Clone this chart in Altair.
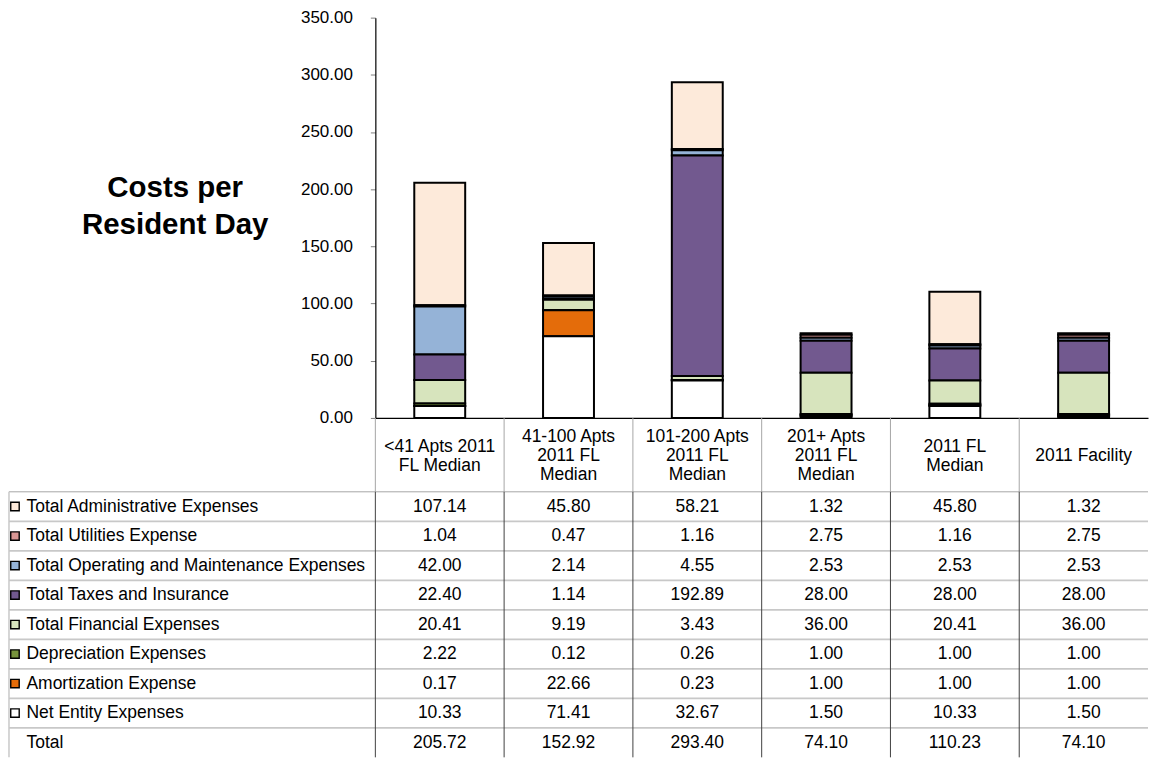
import altair as alt
import pandas as pd

FONT = "Liberation Sans"

# Column categories and their multi-line table headers
categories = [
    "<41 Apts 2011 FL Median",
    "41-100 Apts 2011 FL Median",
    "101-200 Apts 2011 FL Median",
    "201+ Apts 2011 FL Median",
    "2011 FL Median",
    "2011 Facility",
]
header_lines = [
    ["<41 Apts 2011", "FL Median"],
    ["41-100 Apts", "2011 FL", "Median"],
    ["101-200 Apts", "2011 FL", "Median"],
    ["201+ Apts", "2011 FL", "Median"],
    ["2011 FL", "Median"],
    ["2011 Facility"],
]

# Expense series, in table order (top row first)
series = [
    "Total Administrative Expenses",
    "Total Utilities Expense",
    "Total Operating and Maintenance Expenses",
    "Total Taxes and Insurance",
    "Total Financial Expenses",
    "Depreciation Expenses",
    "Amortization Expense",
    "Net Entity Expenses",
]
series_colors = [
    "#FDEADA",
    "#D99694",
    "#95B3D7",
    "#72598F",
    "#D7E4BD",
    "#77933C",
    "#E46C0A",
    "#FFFFFF",
]

administrative = [107.14, 45.80, 58.21, 1.32, 45.80, 1.32]
utilities = [1.04, 0.47, 1.16, 2.75, 1.16, 2.75]
operating = [42.00, 2.14, 4.55, 2.53, 2.53, 2.53]
taxes = [22.40, 1.14, 192.89, 28.00, 28.00, 28.00]
financial = [20.41, 9.19, 3.43, 36.00, 20.41, 36.00]
depreciation = [2.22, 0.12, 0.26, 1.00, 1.00, 1.00]
amortization = [0.17, 22.66, 0.23, 1.00, 1.00, 1.00]
net_entity = [10.33, 71.41, 32.67, 1.50, 10.33, 1.50]
totals = [205.72, 152.92, 293.40, 74.10, 110.23, 74.10]

y_ticks = [0, 50, 100, 150, 200, 250, 300, 350]

series_values = [administrative, utilities, operating, taxes,
                 financial, depreciation, amortization, net_entity]

# Long table for the stacked bars and the data table
records = []
for s_idx, (name, vals) in enumerate(zip(series, series_values)):
    for cat, v in zip(categories, vals):
        records.append({
            "category": cat,
            "row": name,
            "series": name,
            "value": v,
            "stack": len(series) - 1 - s_idx,
        })
bars_df = pd.DataFrame(records)

total_df = pd.DataFrame({"category": categories, "row": "Total",
                         "series": None, "value": totals})
table_df = pd.concat([bars_df, total_df], ignore_index=True)
table_df["label"] = table_df["value"].map(lambda v: f"{v:.2f}")

rows = series + ["Total"]
rows_df = pd.DataFrame({"row": rows})
cats_df = pd.DataFrame({"category": categories})
swatch_df = pd.DataFrame({"row": series, "series": series})

# One record per header text line; "pos" centres each block vertically
head_records = []
for cat, lines in zip(categories, header_lines):
    n = len(lines)
    for i, line in enumerate(lines):
        head_records.append({"category": cat, "text": line,
                             "pos": (n - 1) / 2 - i})
head_df = pd.DataFrame(head_records)

W = 774
H_PLOT = 401
H_HEAD = 74
H_BODY = 266
LEFT = 367  # width of the row-label column left of the plot
HEAD_LINE = 19  # header line spacing in pixels

x_scale = alt.Scale(domain=categories, paddingInner=0, paddingOuter=0)
color_scale = alt.Scale(domain=series, range=series_colors)
row_scale = alt.Scale(domain=rows, paddingInner=0, paddingOuter=0)

GRID_V_BODY = "#404040"
GRID_V_HEAD = "#A6A6A6"
GRID_H = "#C8C8C8"
GRID_H_TOP = "#A6A6A6"
TABLE_FONT = 17.5

# ---- stacked bars -------------------------------------------------------
bars = alt.Chart(bars_df).mark_bar(
    size=51, stroke="#000000", strokeWidth=2
).encode(
    x=alt.X("category:N", scale=x_scale, sort=categories,
            axis=alt.Axis(labels=False, ticks=False, title=None,
                          domainColor="#000000", domainWidth=1.2)),
    y=alt.Y("value:Q", stack="zero",
            scale=alt.Scale(domain=[0, 350], nice=False),
            axis=alt.Axis(
                values=y_ticks, format=".2f", grid=False,
                labelFontSize=17, labelColor="#000000", labelPadding=18,
                tickSize=5, tickColor="#808080",
                domainColor="#000000", domainWidth=1.2,
                title=["Costs per", "Resident Day"],
                titleAngle=0, titleFontSize=29.5, titleFontWeight="bold",
                titleColor="#000000", titleAlign="center",
                titleBaseline="alphabetic", titleLineHeight=37,
                titleX=-201, titleY=179,
            )),
    color=alt.Color("series:N", scale=color_scale, legend=None),
    order=alt.Order("stack:Q", sort="ascending"),
).properties(width=W, height=H_PLOT)

# ---- table header ---------------------------------------------------------
half = H_HEAD / 2 / HEAD_LINE
head_lines_mark = alt.Chart(cats_df).mark_rule(color=GRID_V_HEAD, strokeWidth=1).encode(
    x=alt.X("category:N", bandPosition=0, scale=x_scale, axis=None),
)
head_text = alt.Chart(head_df).mark_text(
    fontSize=TABLE_FONT, color="#000000", align="center", baseline="middle",
    dy=1.5,
).encode(
    x=alt.X("category:N", scale=x_scale, axis=None),
    y=alt.Y("pos:Q", scale=alt.Scale(domain=[-half, half], nice=False, zero=False),
            axis=None),
    text="text:N",
)
header = alt.layer(head_lines_mark, head_text).properties(width=W, height=H_HEAD)


# ---- table body -----------------------------------------------------------
def row_y(band_pos=None):
    kw = {}
    if band_pos is not None:
        kw["bandPosition"] = band_pos
    return alt.Y(
        "row:N", scale=row_scale, sort=rows,
        axis=alt.Axis(title=None, domain=False, ticks=False, tickSize=0,
                      grid=False, labelAlign="left", labelPadding=350,
                      labelFontSize=TABLE_FONT, labelColor="#000000",
                      labelLimit=400),
        **kw,
    )


body_hlines = alt.Chart(rows_df.iloc[1:]).mark_rule(color=GRID_H, strokeWidth=1.8).encode(
    y=row_y(0),
    x=alt.value(-LEFT),
    x2=alt.value(W),
)
body_topline = alt.Chart(rows_df.iloc[:1]).mark_rule(color=GRID_H_TOP, strokeWidth=1).encode(
    y=row_y(0),
    x=alt.value(-LEFT),
    x2=alt.value(W),
)
body_left = alt.Chart(rows_df.head(1)).mark_rule(color=GRID_H, strokeWidth=1.5).encode(
    x=alt.value(-LEFT),
    y=alt.value(0),
    y2=alt.value(H_BODY),
)
body_vlines = alt.Chart(cats_df).mark_rule(color=GRID_V_BODY, strokeWidth=1).encode(
    x=alt.X("category:N", bandPosition=0, scale=x_scale, axis=None),
)
body_swatches = alt.Chart(swatch_df).mark_square(
    size=72, stroke="#000000", strokeWidth=1.4, opacity=1, filled=True
).encode(
    y=row_y(),
    x=alt.value(-361),
    color=alt.Color("series:N", scale=color_scale, legend=None),
)
body_text = alt.Chart(table_df).mark_text(
    fontSize=TABLE_FONT, color="#000000", align="center", baseline="middle"
).encode(
    x=alt.X("category:N", scale=x_scale, axis=None),
    y=row_y(),
    text="label:N",
)
body = alt.layer(body_hlines, body_topline, body_left, body_vlines,
                 body_swatches, body_text).properties(width=W, height=H_BODY)

chart = alt.vconcat(bars, header, body, spacing=0, bounds="flush").properties(
    padding={"left": 7, "top": 8, "right": 0, "bottom": 0}
).configure(font=FONT).configure_view(stroke=None)

chart.save("out.html", embed_options={"renderer": "svg", "actions": False})
